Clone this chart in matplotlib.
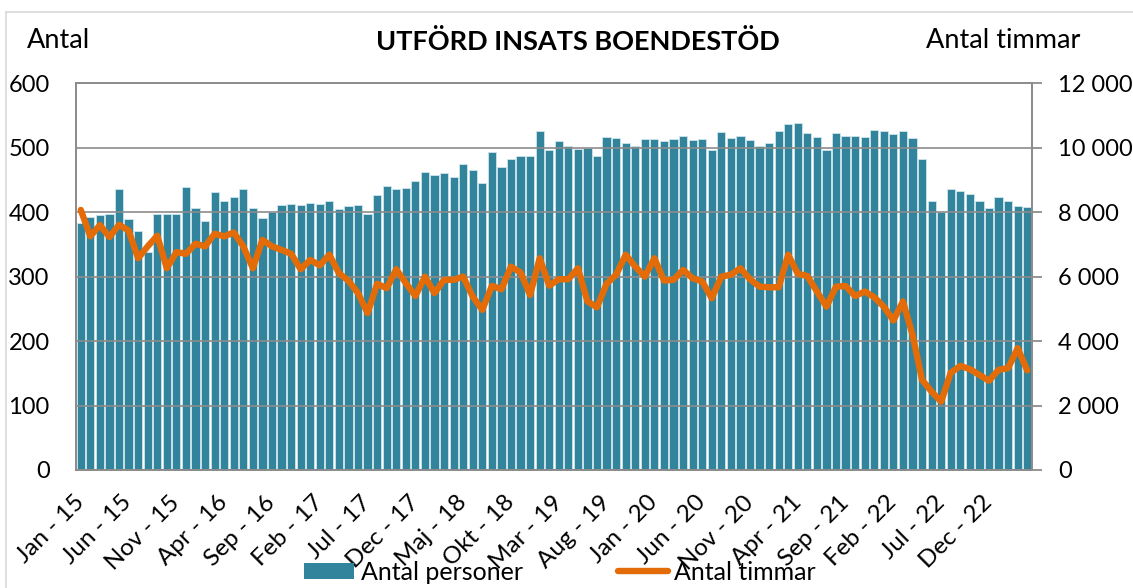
import matplotlib
matplotlib.use("Agg")
import matplotlib.pyplot as plt
from matplotlib.lines import Line2D
from matplotlib.patches import Patch
import numpy as np

months_sv = ["Jan", "Feb", "Mar", "Apr", "Maj", "Jun", "Jul", "Aug", "Sep", "Okt", "Nov", "Dec"]
start_year = 2015
n_months = 100
categories = [f"{months_sv[i % 12]} - {(start_year + i // 12) % 100:02d}" for i in range(n_months)]

antal_personer = [
    384, 392, 395, 397, 436, 389, 371, 338, 397, 397,
    397, 439, 407, 386, 432, 418, 424, 436, 407, 391,
    401, 411, 413, 411, 415, 413, 418, 405, 409, 411,
    397, 426, 441, 436, 437, 448, 462, 457, 461, 455,
    475, 466, 445, 494, 470, 483, 487, 487, 526, 497,
    510, 502, 498, 500, 487, 516, 515, 508, 503, 514,
    513, 511, 514, 519, 512, 513, 497, 525, 515, 519,
    512, 502, 507, 526, 537, 539, 523, 516, 497, 523,
    519, 519, 517, 527, 526, 521, 526, 515, 482, 418,
    401, 436, 433, 429, 418, 407, 423, 417, 409, 408,
]

antal_timmar = [
    8070, 7250, 7600, 7230, 7610, 7430, 6570, 6940, 7270, 6260,
    6760, 6710, 7020, 6940, 7330, 7250, 7370, 6940, 6260, 7140,
    6940, 6830, 6710, 6230, 6520, 6350, 6680, 6110, 5870, 5490,
    4870, 5780, 5640, 6230, 5800, 5400, 6000, 5490, 5900, 5900,
    6000, 5380, 4970, 5710, 5610, 6310, 6130, 5430, 6570, 5720,
    5920, 5920, 6260, 5230, 5050, 5780, 6060, 6680, 6310, 6000,
    6570, 5880, 5900, 6210, 5950, 5850, 5330, 6000, 6060, 6260,
    5920, 5690, 5670, 5670, 6680, 6090, 6020, 5540, 5070, 5690,
    5710, 5400, 5540, 5360, 5070, 4640, 5230, 4200, 2800, 2430,
    2120, 3020, 3230, 3130, 2950, 2770, 3110, 3160, 3780, 3090,
]

left_ticks = [0, 100, 200, 300, 400, 500, 600]
right_ticks = [0, 2000, 4000, 6000, 8000, 10000, 12000]
right_labels = ["0", "2 000", "4 000", "6 000", "8 000", "10 000", "12 000"]

title = "UTFÖRD INSATS BOENDESTÖD"
bar_color = "#31849B"
line_color = "#E36C09"
grid_color = "#8C8C8C"

plt.rcParams["font.family"] = ["Lato", "DejaVu Sans"]
FS_TICK = 17
FS_XTICK = 17.5
FS_TEXT = 19.5
FS_LEG = 18

fig = plt.figure(figsize=(11.33, 5.88), dpi=100)
W, H = 1133, 588
ax = fig.add_axes([76 / W, 1 - 470 / H, (1032 - 76) / W, (470 - 83.3) / H])

x = np.arange(n_months)
ax.bar(x, antal_personer, width=0.86, color=bar_color, edgecolor="#cfe5ec",
       linewidth=0.6, zorder=2)
ax.set_xlim(-0.5, n_months - 0.5)
ax.set_ylim(0, 600)
ax.set_yticks(left_ticks)
ax.set_yticklabels([str(v) for v in left_ticks], fontsize=FS_TICK)
ax.tick_params(axis="y", length=0, pad=19)
for yv in left_ticks[1:-1]:
    ax.axhline(yv, color=grid_color, linewidth=1.2, zorder=3)

ax.set_xticks(x[::5])
ax.set_xticklabels(categories[::5], rotation=45, ha="right", va="center",
                   rotation_mode="anchor", fontsize=FS_XTICK)
ax.tick_params(axis="x", length=0, pad=21)

for side in ["left", "right", "bottom", "top"]:
    ax.spines[side].set_color(grid_color)
    ax.spines[side].set_linewidth(1.3)
ax.spines["left"].set_zorder(4)

ax2 = ax.twinx()
ax2.plot(x, antal_timmar, color=line_color, linewidth=4.6,
         solid_joinstyle="round", solid_capstyle="round", zorder=5)
ax2.set_ylim(0, 12000)
ax2.set_yticks(right_ticks)
ax2.set_yticklabels(right_labels, fontsize=FS_TICK)
ax2.tick_params(axis="y", length=7, width=1.3, color=grid_color, pad=12)
for side in ["left", "right", "bottom", "top"]:
    ax2.spines[side].set_color(grid_color)
    ax2.spines[side].set_linewidth(1.3)

fig.text(27 / W, 1 - 41 / H, "Antal", fontsize=FS_TEXT, ha="left", va="center")
fig.text(1080 / W, 1 - 41 / H, "Antal timmar", fontsize=FS_TEXT, ha="right", va="center")
fig.text(578 / W, 1 - 42 / H, title, fontsize=FS_TEXT, fontweight="bold",
         ha="center", va="center")

# outer chart border (top and left visible)
fig.add_artist(Line2D([6 / W, 6 / W], [0, 1 - 12 / H], transform=fig.transFigure,
                      color="#D9D9D9", linewidth=1.2))
fig.add_artist(Line2D([6 / W, 1], [1 - 12 / H, 1 - 12 / H], transform=fig.transFigure,
                      color="#D9D9D9", linewidth=1.2))

handles = [Patch(facecolor=bar_color, edgecolor="none"),
           Line2D([0], [0], color=line_color, linewidth=4.6, solid_capstyle="round")]
fig.legend(handles, ["Antal personer", "Antal timmar"], loc="center",
           bbox_to_anchor=(560 / W, 1 - 572 / H), ncol=2, frameon=False,
           fontsize=FS_LEG, handlelength=2.0, handleheight=0.6, handletextpad=0.25,
           columnspacing=3.8, borderpad=0)

fig.savefig("out.png", dpi=100)
